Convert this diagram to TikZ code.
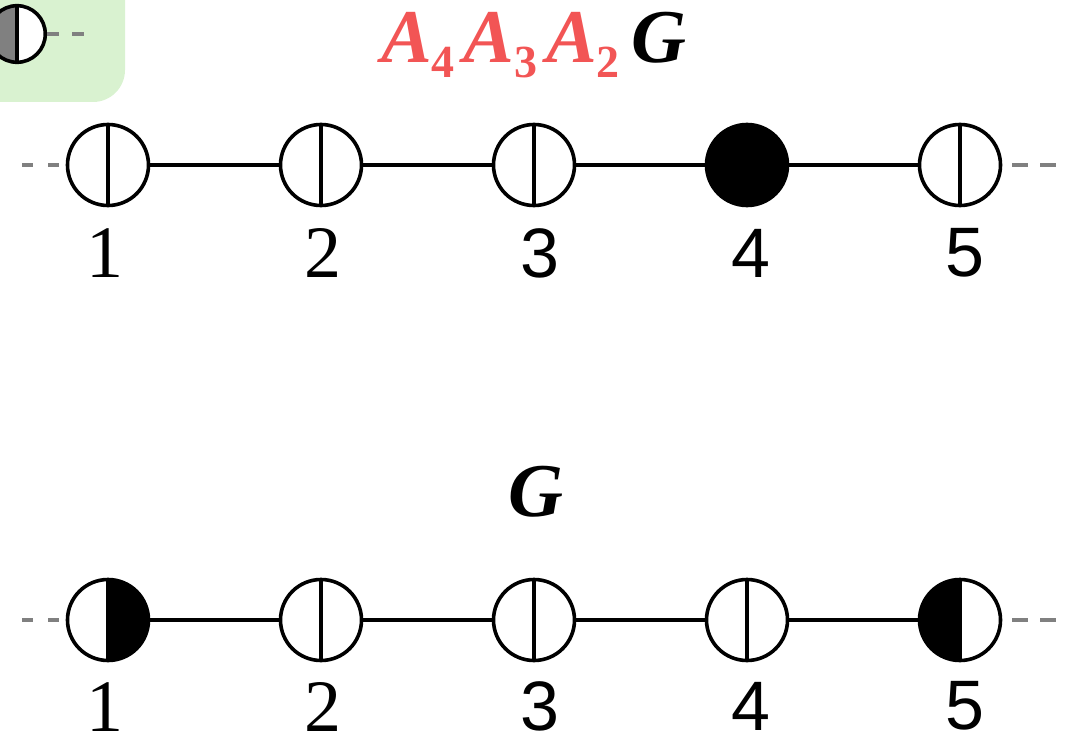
\documentclass[tikz,border=0pt]{standalone}
\usepackage{fontspec}
\setmainfont{Liberation Serif}
\newfontfamily\labsans{Liberation Sans}
\newfontfamily\labserif{Liberation Serif}
\definecolor{titlered}{RGB}{242,85,85}
\definecolor{legendgreen}{RGB}{217,242,208}
\definecolor{dashgray}{RGB}{128,128,128}
\newcommand{\bigA}{{\fontsize{76}{80}\selectfont\bfseries\itshape A}}
\newcommand{\subd}[1]{\raisebox{-15pt}{\fontsize{46}{50}\selectfont\bfseries #1}}
\begin{document}
\begin{tikzpicture}[x=1pt,y=-1pt,
  vnode/.style={circle,draw=black,line width=3.6pt,minimum size=81pt,inner sep=0pt,fill=white},
  vline/.style={path picture={\draw[line width=3.6pt] (path picture bounding box.north) -- (path picture bounding box.south);}},
  rightblack/.style={path picture={\fill[black] (path picture bounding box.north) rectangle (path picture bounding box.south east);\draw[line width=3.6pt] (path picture bounding box.north) -- (path picture bounding box.south);}},
  leftblack/.style={path picture={\fill[black] (path picture bounding box.north west) rectangle (path picture bounding box.south);\draw[line width=3.6pt] (path picture bounding box.north) -- (path picture bounding box.south);}},
  leftgray/.style={path picture={\fill[dashgray] (path picture bounding box.north west) rectangle (path picture bounding box.south);\draw[line width=3.6pt] (path picture bounding box.north) -- (path picture bounding box.south);}},
  fullblack/.style={fill=black},
  edge/.style={line width=3.4pt},
  stub/.style={line width=3.4pt,draw=dashgray},
  serlab/.style={font=\labserif\fontsize{74}{80}\selectfont,inner sep=0pt},
  sanlab/.style={font=\labsans\fontsize{70}{76}\selectfont,inner sep=0pt},
  titlelab/.style={inner sep=0pt,anchor=base}
]
\useasboundingbox (0,0) rectangle (1076,738);
% legend panel
\begin{scope}
\clip (0,0) rectangle (1076,738);
\fill[legendgreen,rounded corners=32pt] (-60,-60) rectangle (125,102);
\node[vnode,leftgray,minimum size=56.6pt] (legend) at (17,34) {};
\coordinate (legendend) at (88,34);
\draw[stub,dash pattern=on 12pt off 13pt] (legend.east) -- (legendend);
\end{scope}

% titles
\node[titlelab] (title1) at (534,63) {{\color{titlered}\bigA\hspace{-1pt}\subd{4}\hspace{9pt}\bigA\hspace{1pt}\subd{3}\hspace{9pt}\bigA\hspace{-1pt}\subd{2}}\hspace{12pt}{\fontsize{76}{80}\selectfont\bfseries\itshape G}};
\node[titlelab] (title2) at (536,516) {{\fontsize{76}{80}\selectfont\bfseries\itshape G}};

% top row
\node[vnode,vline] (t1) at (108,165) {};
\node[vnode,vline] (t2) at (321,165) {};
\node[vnode,vline] (t3) at (534,165) {};
\node[vnode,fullblack] (t4) at (747,165) {};
\node[vnode,vline] (t5) at (960,165) {};
\coordinate (tl) at (22,165);
\coordinate (trs) at (1012,165);
\coordinate (tr) at (1057,165);
\draw[stub,dash pattern=on 11pt off 15pt] (tl) -- (t1.west);
\draw[stub,dash pattern=on 16pt off 12pt] (trs) -- (tr);
\draw[edge] (t1) -- (t2);
\draw[edge] (t2) -- (t3);
\draw[edge] (t3) -- (t4);
\draw[edge] (t4) -- (t5);
\node[serlab] (lt1) at (105,253) {1};
\node[serlab] (lt2) at (323,253) {2};
\node[sanlab] (lt3) at (540,253) {3};
\node[sanlab] (lt4) at (751,253) {4};
\node[sanlab] (lt5) at (965,253) {5};

% bottom row
\node[vnode,rightblack] (b1) at (108,620) {};
\node[vnode,vline] (b2) at (321,620) {};
\node[vnode,vline] (b3) at (534,620) {};
\node[vnode,vline] (b4) at (747,620) {};
\node[vnode,leftblack] (b5) at (960,620) {};
\coordinate (bl) at (22,620);
\coordinate (brs) at (1012,620);
\coordinate (br) at (1057,620);
\draw[stub,dash pattern=on 11pt off 15pt] (bl) -- (b1.west);
\draw[stub,dash pattern=on 16pt off 12pt] (brs) -- (br);
\draw[edge] (b1) -- (b2);
\draw[edge] (b2) -- (b3);
\draw[edge] (b3) -- (b4);
\draw[edge] (b4) -- (b5);
\node[serlab] (lb1) at (105,707) {1};
\node[serlab] (lb2) at (323,707) {2};
\node[sanlab] (lb3) at (540,706) {3};
\node[sanlab] (lb4) at (751,706) {4};
\node[sanlab] (lb5) at (965,706) {5};
\end{tikzpicture}
\end{document}
